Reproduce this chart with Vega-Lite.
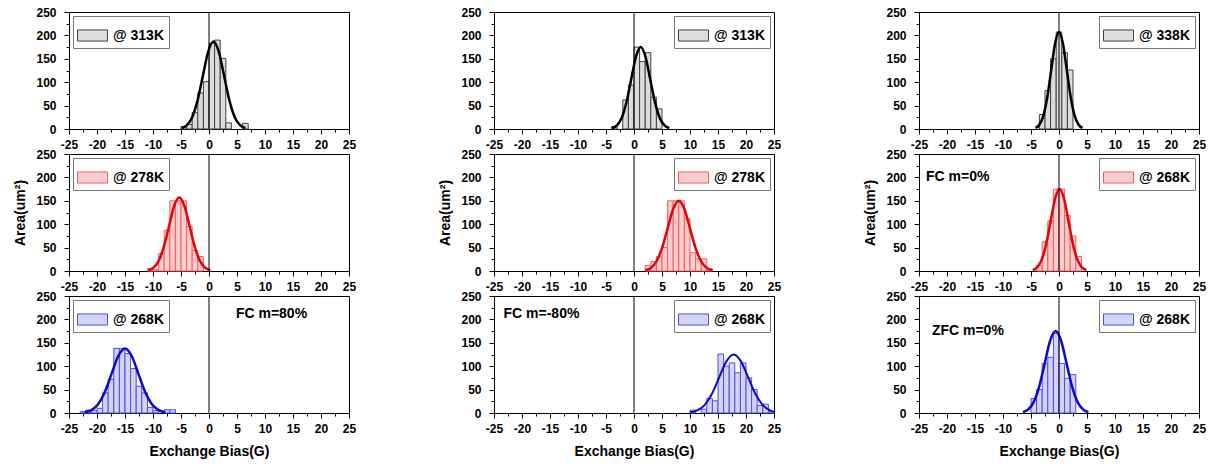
{
  "$schema": "https://vega.github.io/schema/vega-lite/v6.json",
  "padding": {"left": 13, "top": 5, "right": 5, "bottom": 5},
  "background": "white",
  "datasets": {
    "bars": [
      {"p":"c1r1","s":"@ 313K","a":-5,"b":-4,"n":5},{"p":"c1r1","s":"@ 313K","a":-4,"b":-3,"n":10},{"p":"c1r1","s":"@ 313K","a":-3,"b":-2,"n":35},{"p":"c1r1","s":"@ 313K","a":-2,"b":-1,"n":77},{"p":"c1r1","s":"@ 313K","a":-1,"b":0,"n":101},{"p":"c1r1","s":"@ 313K","a":0,"b":1,"n":183},{"p":"c1r1","s":"@ 313K","a":1,"b":2,"n":190},{"p":"c1r1","s":"@ 313K","a":2,"b":3,"n":151},{"p":"c1r1","s":"@ 313K","a":3,"b":4,"n":13},{"p":"c1r1","s":"@ 313K","a":6,"b":7,"n":12},
      {"p":"c1r2","s":"@ 278K","a":-11,"b":-10,"n":5},{"p":"c1r2","s":"@ 278K","a":-10,"b":-9,"n":3},{"p":"c1r2","s":"@ 278K","a":-9,"b":-8,"n":37},{"p":"c1r2","s":"@ 278K","a":-8,"b":-7,"n":87},{"p":"c1r2","s":"@ 278K","a":-7,"b":-6,"n":150},{"p":"c1r2","s":"@ 278K","a":-6,"b":-5,"n":150},{"p":"c1r2","s":"@ 278K","a":-5,"b":-4,"n":150},{"p":"c1r2","s":"@ 278K","a":-4,"b":-3,"n":95},{"p":"c1r2","s":"@ 278K","a":-3,"b":-2,"n":44},{"p":"c1r2","s":"@ 278K","a":-2,"b":-1,"n":31},
      {"p":"c1r3","s":"@ 268K","a":-23,"b":-22,"n":3},{"p":"c1r3","s":"@ 268K","a":-22,"b":-21,"n":6},{"p":"c1r3","s":"@ 268K","a":-21,"b":-20,"n":6},{"p":"c1r3","s":"@ 268K","a":-20,"b":-19,"n":10},{"p":"c1r3","s":"@ 268K","a":-19,"b":-18,"n":43},{"p":"c1r3","s":"@ 268K","a":-18,"b":-17,"n":72},{"p":"c1r3","s":"@ 268K","a":-17,"b":-16,"n":138},{"p":"c1r3","s":"@ 268K","a":-16,"b":-15,"n":138},{"p":"c1r3","s":"@ 268K","a":-15,"b":-14,"n":127},{"p":"c1r3","s":"@ 268K","a":-14,"b":-13,"n":95},{"p":"c1r3","s":"@ 268K","a":-13,"b":-12,"n":57},{"p":"c1r3","s":"@ 268K","a":-12,"b":-11,"n":43},{"p":"c1r3","s":"@ 268K","a":-11,"b":-10,"n":12},{"p":"c1r3","s":"@ 268K","a":-10,"b":-9,"n":5},{"p":"c1r3","s":"@ 268K","a":-8,"b":-7,"n":7},{"p":"c1r3","s":"@ 268K","a":-7,"b":-6,"n":7},
      {"p":"c2r1","s":"@ 313K","a":-4,"b":-3,"n":5},{"p":"c2r1","s":"@ 313K","a":-2,"b":-1,"n":62},{"p":"c2r1","s":"@ 313K","a":-1,"b":0,"n":94},{"p":"c2r1","s":"@ 313K","a":0,"b":1,"n":175},{"p":"c2r1","s":"@ 313K","a":1,"b":2,"n":144},{"p":"c2r1","s":"@ 313K","a":2,"b":3,"n":163},{"p":"c2r1","s":"@ 313K","a":3,"b":4,"n":68},{"p":"c2r1","s":"@ 313K","a":4,"b":5,"n":43},
      {"p":"c2r2","s":"@ 278K","a":2,"b":3,"n":12},{"p":"c2r2","s":"@ 278K","a":3,"b":4,"n":20},{"p":"c2r2","s":"@ 278K","a":4,"b":5,"n":31},{"p":"c2r2","s":"@ 278K","a":5,"b":6,"n":50},{"p":"c2r2","s":"@ 278K","a":6,"b":7,"n":150},{"p":"c2r2","s":"@ 278K","a":7,"b":8,"n":150},{"p":"c2r2","s":"@ 278K","a":8,"b":9,"n":150},{"p":"c2r2","s":"@ 278K","a":9,"b":10,"n":112},{"p":"c2r2","s":"@ 278K","a":10,"b":11,"n":39},{"p":"c2r2","s":"@ 278K","a":11,"b":12,"n":26},{"p":"c2r2","s":"@ 278K","a":12,"b":13,"n":26},{"p":"c2r2","s":"@ 278K","a":13,"b":14,"n":5},
      {"p":"c2r3","s":"@ 268K","a":10,"b":11,"n":6},{"p":"c2r3","s":"@ 268K","a":12,"b":13,"n":8},{"p":"c2r3","s":"@ 268K","a":13,"b":14,"n":31},{"p":"c2r3","s":"@ 268K","a":14,"b":15,"n":26},{"p":"c2r3","s":"@ 268K","a":15,"b":16,"n":126},{"p":"c2r3","s":"@ 268K","a":16,"b":17,"n":100},{"p":"c2r3","s":"@ 268K","a":17,"b":18,"n":107},{"p":"c2r3","s":"@ 268K","a":18,"b":19,"n":86},{"p":"c2r3","s":"@ 268K","a":19,"b":20,"n":107},{"p":"c2r3","s":"@ 268K","a":20,"b":21,"n":75},{"p":"c2r3","s":"@ 268K","a":21,"b":22,"n":50},{"p":"c2r3","s":"@ 268K","a":22,"b":23,"n":16},{"p":"c2r3","s":"@ 268K","a":23,"b":24,"n":19},{"p":"c2r3","s":"@ 268K","a":24,"b":25,"n":3},
      {"p":"c3r1","s":"@ 338K","a":-3.5,"b":-2.5,"n":31},{"p":"c3r1","s":"@ 338K","a":-2.5,"b":-1.5,"n":82},{"p":"c3r1","s":"@ 338K","a":-1.5,"b":-0.5,"n":150},{"p":"c3r1","s":"@ 338K","a":-0.5,"b":0.5,"n":207},{"p":"c3r1","s":"@ 338K","a":0.5,"b":1.5,"n":163},{"p":"c3r1","s":"@ 338K","a":1.5,"b":2.5,"n":126},
      {"p":"c3r2","s":"@ 268K","a":-4,"b":-3,"n":12},{"p":"c3r2","s":"@ 268K","a":-3,"b":-2,"n":62},{"p":"c3r2","s":"@ 268K","a":-2,"b":-1,"n":107},{"p":"c3r2","s":"@ 268K","a":-1,"b":0,"n":175},{"p":"c3r2","s":"@ 268K","a":0,"b":1,"n":175},{"p":"c3r2","s":"@ 268K","a":1,"b":2,"n":119},{"p":"c3r2","s":"@ 268K","a":2,"b":3,"n":75},{"p":"c3r2","s":"@ 268K","a":3,"b":4,"n":31},
      {"p":"c3r3","s":"@ 268K","a":-5,"b":-4,"n":31},{"p":"c3r3","s":"@ 268K","a":-4,"b":-3,"n":50},{"p":"c3r3","s":"@ 268K","a":-3,"b":-2,"n":106},{"p":"c3r3","s":"@ 268K","a":-2,"b":-1,"n":119},{"p":"c3r3","s":"@ 268K","a":-1,"b":0,"n":170},{"p":"c3r3","s":"@ 268K","a":0,"b":1,"n":106},{"p":"c3r3","s":"@ 268K","a":1,"b":2,"n":74},{"p":"c3r3","s":"@ 268K","a":2,"b":3,"n":82}
    ],
    "fits": [
      {"p":"c1r1","a":-4.9,"n":2.1},{"p":"c1r1","a":-3.95,"n":8.2},{"p":"c1r1","a":-3.0,"n":25.3},{"p":"c1r1","a":-2.05,"n":60.7},{"p":"c1r1","a":-1.1,"n":113.4},{"p":"c1r1","a":-0.15,"n":165.0},{"p":"c1r1","a":0.8,"n":187},{"p":"c1r1","a":1.75,"n":165.0},{"p":"c1r1","a":2.7,"n":113.4},{"p":"c1r1","a":3.65,"n":60.7},{"p":"c1r1","a":4.6,"n":25.3},{"p":"c1r1","a":5.55,"n":8.2},{"p":"c1r1","a":6.5,"n":2.1},
      {"p":"c1r2","a":-10.85,"n":1.7},{"p":"c1r2","a":-9.93,"n":6.9},{"p":"c1r2","a":-9.0,"n":21.2},{"p":"c1r2","a":-8.08,"n":51.0},{"p":"c1r2","a":-7.15,"n":95.2},{"p":"c1r2","a":-6.23,"n":138.6},{"p":"c1r2","a":-5.3,"n":157},{"p":"c1r2","a":-4.38,"n":138.6},{"p":"c1r2","a":-3.45,"n":95.2},{"p":"c1r2","a":-2.53,"n":51.0},{"p":"c1r2","a":-1.6,"n":21.2},{"p":"c1r2","a":-0.68,"n":6.9},{"p":"c1r2","a":0.25,"n":1.7},
      {"p":"c1r3","a":-22.2,"n":1.5},{"p":"c1r3","a":-21.0,"n":6.1},{"p":"c1r3","a":-19.8,"n":18.7},{"p":"c1r3","a":-18.6,"n":44.8},{"p":"c1r3","a":-17.4,"n":83.7},{"p":"c1r3","a":-16.2,"n":121.8},{"p":"c1r3","a":-15,"n":138},{"p":"c1r3","a":-13.8,"n":121.8},{"p":"c1r3","a":-12.6,"n":83.7},{"p":"c1r3","a":-11.4,"n":44.8},{"p":"c1r3","a":-10.2,"n":18.7},{"p":"c1r3","a":-9.0,"n":6.1},{"p":"c1r3","a":-7.8,"n":1.5},
      {"p":"c2r1","a":-3.9,"n":1.9},{"p":"c2r1","a":-3.05,"n":7.7},{"p":"c2r1","a":-2.2,"n":23.7},{"p":"c2r1","a":-1.35,"n":56.8},{"p":"c2r1","a":-0.5,"n":106.1},{"p":"c2r1","a":0.35,"n":154.4},{"p":"c2r1","a":1.2,"n":175},{"p":"c2r1","a":2.05,"n":154.4},{"p":"c2r1","a":2.9,"n":106.1},{"p":"c2r1","a":3.75,"n":56.8},{"p":"c2r1","a":4.6,"n":23.7},{"p":"c2r1","a":5.45,"n":7.7},{"p":"c2r1","a":6.3,"n":1.9},
      {"p":"c2r2","a":2,"n":1.7},{"p":"c2r2","a":3,"n":6.6},{"p":"c2r2","a":4,"n":20.3},{"p":"c2r2","a":5,"n":48.7},{"p":"c2r2","a":6,"n":91.0},{"p":"c2r2","a":7,"n":132.4},{"p":"c2r2","a":8,"n":150},{"p":"c2r2","a":9,"n":132.4},{"p":"c2r2","a":10,"n":91.0},{"p":"c2r2","a":11,"n":48.7},{"p":"c2r2","a":12,"n":20.3},{"p":"c2r2","a":13,"n":6.6},{"p":"c2r2","a":14,"n":1.7},
      {"p":"c2r3","a":10.0,"n":1.4},{"p":"c2r3","a":11.3,"n":5.5},{"p":"c2r3","a":12.6,"n":16.9},{"p":"c2r3","a":13.9,"n":40.6},{"p":"c2r3","a":15.2,"n":75.8},{"p":"c2r3","a":16.5,"n":110.3},{"p":"c2r3","a":17.8,"n":125},{"p":"c2r3","a":19.1,"n":110.3},{"p":"c2r3","a":20.4,"n":75.8},{"p":"c2r3","a":21.7,"n":40.6},{"p":"c2r3","a":23.0,"n":16.9},{"p":"c2r3","a":24.3,"n":5.5},{"p":"c2r3","a":25.6,"n":1.4},
      {"p":"c3r1","a":-4.2,"n":2.3},{"p":"c3r1","a":-3.5,"n":9.1},{"p":"c3r1","a":-2.8,"n":28.0},{"p":"c3r1","a":-2.1,"n":67.2},{"p":"c3r1","a":-1.4,"n":125.5},{"p":"c3r1","a":-0.7,"n":182.7},{"p":"c3r1","a":0,"n":207},{"p":"c3r1","a":0.7,"n":182.7},{"p":"c3r1","a":1.4,"n":125.5},{"p":"c3r1","a":2.1,"n":67.2},{"p":"c3r1","a":2.8,"n":28.0},{"p":"c3r1","a":3.5,"n":9.1},{"p":"c3r1","a":4.2,"n":2.3},
      {"p":"c3r2","a":-4.7,"n":1.9},{"p":"c3r2","a":-3.9,"n":7.7},{"p":"c3r2","a":-3.1,"n":23.7},{"p":"c3r2","a":-2.3,"n":56.8},{"p":"c3r2","a":-1.5,"n":106.1},{"p":"c3r2","a":-0.7,"n":154.4},{"p":"c3r2","a":0.1,"n":175},{"p":"c3r2","a":0.9,"n":154.4},{"p":"c3r2","a":1.7,"n":106.1},{"p":"c3r2","a":2.5,"n":56.8},{"p":"c3r2","a":3.3,"n":23.7},{"p":"c3r2","a":4.1,"n":7.7},{"p":"c3r2","a":4.9,"n":1.9},
      {"p":"c3r3","a":-6.45,"n":1.9},{"p":"c3r3","a":-5.48,"n":7.7},{"p":"c3r3","a":-4.5,"n":23.7},{"p":"c3r3","a":-3.53,"n":56.8},{"p":"c3r3","a":-2.55,"n":106.1},{"p":"c3r3","a":-1.58,"n":154.4},{"p":"c3r3","a":-0.6,"n":175},{"p":"c3r3","a":0.38,"n":154.4},{"p":"c3r3","a":1.35,"n":106.1},{"p":"c3r3","a":2.33,"n":56.8},{"p":"c3r3","a":3.3,"n":23.7},{"p":"c3r3","a":4.28,"n":7.7},{"p":"c3r3","a":5.25,"n":1.9}
    ]
  },
  "columns": 3,
  "bounds": "flush",
  "spacing": {"row": 25, "column": 145},
  "resolve": {"scale": {"fill": "independent", "stroke": "independent"}, "legend": {"fill": "independent", "stroke": "independent"}},
  "concat": [
    {"width": 280, "height": 117,
     "encoding": {
       "x": {"field": "a", "type": "quantitative", "scale": {"domain": [-25, 25], "nice": false}, "axis": {"title": null, "values": [-25,-22.5,-20,-17.5,-15,-12.5,-10,-7.5,-5,-2.5,0,2.5,5,7.5,10,12.5,15,17.5,20,22.5,25], "labelExpr": "datum.value % 5 === 0 ? '' + datum.value : ''", "tickSize": {"condition": {"test": "datum.value % 5 !== 0", "value": 3}, "value": 5}}},
       "y": {"field": "n", "type": "quantitative", "scale": {"domain": [0, 250], "nice": false}, "axis": {"title": null, "values": [0,25,50,75,100,125,150,175,200,225,250], "labelExpr": "datum.value % 50 === 0 ? '' + datum.value : ''", "tickSize": {"condition": {"test": "datum.value % 50 !== 0", "value": 3}, "value": 5}}}
     },
     "layer": [
      {"data": {"name": "bars"}, "transform": [{"filter": "datum.p === 'c1r1'"}], "mark": {"type": "rect", "strokeWidth": 1},
       "encoding": {"x2": {"field": "b"}, "y2": {"datum": 0},
        "fill": {"field": "s", "type": "nominal", "scale": {"range": ["#dcdcdc"]}, "legend": {"orient": "top-left", "title": null}},
        "stroke": {"field": "s", "type": "nominal", "scale": {"range": ["#404040"]}, "legend": {"orient": "top-left", "title": null}}}},
      {"data": {"name": "fits"}, "transform": [{"filter": "datum.p === 'c1r1'"}], "mark": {"type": "line", "color": "#000000", "strokeWidth": 2.5, "interpolate": "monotone", "clip": true}},
      {"data": {"name": "fits"}, "transform": [{"filter": "datum.p === 'c1r1' && datum.n > 180"}], "mark": {"type": "rule", "color": "#000000", "strokeWidth": 1}, "encoding": {"x": {"datum": 0}, "y": null}}
    ]},
    {"width": 280, "height": 117,
     "encoding": {
       "x": {"field": "a", "type": "quantitative", "scale": {"domain": [-25, 25], "nice": false}, "axis": {"title": null, "values": [-25,-22.5,-20,-17.5,-15,-12.5,-10,-7.5,-5,-2.5,0,2.5,5,7.5,10,12.5,15,17.5,20,22.5,25], "labelExpr": "datum.value % 5 === 0 ? '' + datum.value : ''", "tickSize": {"condition": {"test": "datum.value % 5 !== 0", "value": 3}, "value": 5}}},
       "y": {"field": "n", "type": "quantitative", "scale": {"domain": [0, 250], "nice": false}, "axis": {"title": null, "values": [0,25,50,75,100,125,150,175,200,225,250], "labelExpr": "datum.value % 50 === 0 ? '' + datum.value : ''", "tickSize": {"condition": {"test": "datum.value % 50 !== 0", "value": 3}, "value": 5}}}
     },
     "layer": [
      {"data": {"name": "bars"}, "transform": [{"filter": "datum.p === 'c2r1'"}], "mark": {"type": "rect", "strokeWidth": 1},
       "encoding": {"x2": {"field": "b"}, "y2": {"datum": 0},
        "fill": {"field": "s", "type": "nominal", "scale": {"range": ["#dcdcdc"]}, "legend": {"orient": "top-right", "title": null}},
        "stroke": {"field": "s", "type": "nominal", "scale": {"range": ["#404040"]}, "legend": {"orient": "top-right", "title": null}}}},
      {"data": {"name": "fits"}, "transform": [{"filter": "datum.p === 'c2r1'"}], "mark": {"type": "line", "color": "#000000", "strokeWidth": 2.5, "interpolate": "monotone", "clip": true}},
      {"data": {"name": "fits"}, "transform": [{"filter": "datum.p === 'c2r1' && datum.n > 170"}], "mark": {"type": "rule", "color": "#000000", "strokeWidth": 1}, "encoding": {"x": {"datum": 0}, "y": null}}
    ]},
    {"width": 280, "height": 117,
     "encoding": {
       "x": {"field": "a", "type": "quantitative", "scale": {"domain": [-25, 25], "nice": false}, "axis": {"title": null, "values": [-25,-22.5,-20,-17.5,-15,-12.5,-10,-7.5,-5,-2.5,0,2.5,5,7.5,10,12.5,15,17.5,20,22.5,25], "labelExpr": "datum.value % 5 === 0 ? '' + datum.value : ''", "tickSize": {"condition": {"test": "datum.value % 5 !== 0", "value": 3}, "value": 5}}},
       "y": {"field": "n", "type": "quantitative", "scale": {"domain": [0, 250], "nice": false}, "axis": {"title": null, "values": [0,25,50,75,100,125,150,175,200,225,250], "labelExpr": "datum.value % 50 === 0 ? '' + datum.value : ''", "tickSize": {"condition": {"test": "datum.value % 50 !== 0", "value": 3}, "value": 5}}}
     },
     "layer": [
      {"data": {"name": "bars"}, "transform": [{"filter": "datum.p === 'c3r1'"}], "mark": {"type": "rect", "strokeWidth": 1},
       "encoding": {"x2": {"field": "b"}, "y2": {"datum": 0},
        "fill": {"field": "s", "type": "nominal", "scale": {"range": ["#dcdcdc"]}, "legend": {"orient": "top-right", "title": null}},
        "stroke": {"field": "s", "type": "nominal", "scale": {"range": ["#404040"]}, "legend": {"orient": "top-right", "title": null}}}},
      {"data": {"name": "fits"}, "transform": [{"filter": "datum.p === 'c3r1'"}], "mark": {"type": "line", "color": "#000000", "strokeWidth": 2.5, "interpolate": "monotone", "clip": true}},
      {"data": {"name": "fits"}, "transform": [{"filter": "datum.p === 'c3r1' && datum.n > 200"}], "mark": {"type": "rule", "color": "#000000", "strokeWidth": 1}, "encoding": {"x": {"datum": 0}, "y": null}}
    ]},
    {"width": 280, "height": 117,
     "encoding": {
       "x": {"field": "a", "type": "quantitative", "scale": {"domain": [-25, 25], "nice": false}, "axis": {"title": null, "values": [-25,-22.5,-20,-17.5,-15,-12.5,-10,-7.5,-5,-2.5,0,2.5,5,7.5,10,12.5,15,17.5,20,22.5,25], "labelExpr": "datum.value % 5 === 0 ? '' + datum.value : ''", "tickSize": {"condition": {"test": "datum.value % 5 !== 0", "value": 3}, "value": 5}}},
       "y": {"field": "n", "type": "quantitative", "scale": {"domain": [0, 250], "nice": false}, "axis": {"title": "Area(um²)", "values": [0,25,50,75,100,125,150,175,200,225,250], "labelExpr": "datum.value % 50 === 0 ? '' + datum.value : ''", "tickSize": {"condition": {"test": "datum.value % 50 !== 0", "value": 3}, "value": 5}}}
     },
     "layer": [
      {"data": {"name": "bars"}, "transform": [{"filter": "datum.p === 'c1r2'"}], "mark": {"type": "rect", "strokeWidth": 1},
       "encoding": {"x2": {"field": "b"}, "y2": {"datum": 0},
        "fill": {"field": "s", "type": "nominal", "scale": {"range": ["#f9cdcd"]}, "legend": {"orient": "top-left", "title": null}},
        "stroke": {"field": "s", "type": "nominal", "scale": {"range": ["#f06060"]}, "legend": {"orient": "top-left", "title": null}}}},
      {"data": {"name": "fits"}, "transform": [{"filter": "datum.p === 'c1r2'"}], "mark": {"type": "line", "color": "#e8000b", "strokeWidth": 2.5, "interpolate": "monotone", "clip": true}},
      {"data": {"name": "fits"}, "transform": [{"filter": "datum.p === 'c1r2' && datum.n > 150"}], "mark": {"type": "rule", "color": "#000000", "strokeWidth": 1}, "encoding": {"x": {"datum": 0}, "y": null}}
    ]},
    {"width": 280, "height": 117,
     "encoding": {
       "x": {"field": "a", "type": "quantitative", "scale": {"domain": [-25, 25], "nice": false}, "axis": {"title": null, "values": [-25,-22.5,-20,-17.5,-15,-12.5,-10,-7.5,-5,-2.5,0,2.5,5,7.5,10,12.5,15,17.5,20,22.5,25], "labelExpr": "datum.value % 5 === 0 ? '' + datum.value : ''", "tickSize": {"condition": {"test": "datum.value % 5 !== 0", "value": 3}, "value": 5}}},
       "y": {"field": "n", "type": "quantitative", "scale": {"domain": [0, 250], "nice": false}, "axis": {"title": "Area(um²)", "values": [0,25,50,75,100,125,150,175,200,225,250], "labelExpr": "datum.value % 50 === 0 ? '' + datum.value : ''", "tickSize": {"condition": {"test": "datum.value % 50 !== 0", "value": 3}, "value": 5}}}
     },
     "layer": [
      {"data": {"name": "bars"}, "transform": [{"filter": "datum.p === 'c2r2'"}], "mark": {"type": "rect", "strokeWidth": 1},
       "encoding": {"x2": {"field": "b"}, "y2": {"datum": 0},
        "fill": {"field": "s", "type": "nominal", "scale": {"range": ["#f9cdcd"]}, "legend": {"orient": "top-right", "title": null}},
        "stroke": {"field": "s", "type": "nominal", "scale": {"range": ["#f06060"]}, "legend": {"orient": "top-right", "title": null}}}},
      {"data": {"name": "fits"}, "transform": [{"filter": "datum.p === 'c2r2'"}], "mark": {"type": "line", "color": "#e8000b", "strokeWidth": 2.5, "interpolate": "monotone", "clip": true}},
      {"data": {"name": "fits"}, "transform": [{"filter": "datum.p === 'c2r2' && datum.n > 145"}], "mark": {"type": "rule", "color": "#000000", "strokeWidth": 1}, "encoding": {"x": {"datum": 0}, "y": null}}
    ]},
    {"width": 280, "height": 117,
     "encoding": {
       "x": {"field": "a", "type": "quantitative", "scale": {"domain": [-25, 25], "nice": false}, "axis": {"title": null, "values": [-25,-22.5,-20,-17.5,-15,-12.5,-10,-7.5,-5,-2.5,0,2.5,5,7.5,10,12.5,15,17.5,20,22.5,25], "labelExpr": "datum.value % 5 === 0 ? '' + datum.value : ''", "tickSize": {"condition": {"test": "datum.value % 5 !== 0", "value": 3}, "value": 5}}},
       "y": {"field": "n", "type": "quantitative", "scale": {"domain": [0, 250], "nice": false}, "axis": {"title": "Area(um²)", "values": [0,25,50,75,100,125,150,175,200,225,250], "labelExpr": "datum.value % 50 === 0 ? '' + datum.value : ''", "tickSize": {"condition": {"test": "datum.value % 50 !== 0", "value": 3}, "value": 5}}}
     },
     "layer": [
      {"data": {"name": "bars"}, "transform": [{"filter": "datum.p === 'c3r2'"}], "mark": {"type": "rect", "strokeWidth": 1},
       "encoding": {"x2": {"field": "b"}, "y2": {"datum": 0},
        "fill": {"field": "s", "type": "nominal", "scale": {"range": ["#f9cdcd"]}, "legend": {"orient": "top-right", "title": null}},
        "stroke": {"field": "s", "type": "nominal", "scale": {"range": ["#f06060"]}, "legend": {"orient": "top-right", "title": null}}}},
      {"data": {"name": "fits"}, "transform": [{"filter": "datum.p === 'c3r2'"}], "mark": {"type": "line", "color": "#e8000b", "strokeWidth": 2.5, "interpolate": "monotone", "clip": true}},
      {"data": {"name": "fits"}, "transform": [{"filter": "datum.p === 'c3r2' && datum.n > 170"}], "mark": {"type": "rule", "color": "#000000", "strokeWidth": 1}, "encoding": {"x": {"datum": 0}, "y": null}},
      {"data": {"name": "fits"}, "transform": [{"filter": "datum.p === 'c3r2' && datum.n > 170"}], "mark": {"type": "text", "text": "FC m=0%", "align": "left", "baseline": "middle", "fontSize": 14, "fontWeight": "bold", "font": "Liberation Sans", "color": "#000"}, "encoding": {"x": {"datum": -23.75}, "y": {"datum": 200}}}
    ]},
    {"width": 280, "height": 117,
     "encoding": {
       "x": {"field": "a", "type": "quantitative", "scale": {"domain": [-25, 25], "nice": false}, "axis": {"title": "Exchange Bias(G)", "values": [-25,-22.5,-20,-17.5,-15,-12.5,-10,-7.5,-5,-2.5,0,2.5,5,7.5,10,12.5,15,17.5,20,22.5,25], "labelExpr": "datum.value % 5 === 0 ? '' + datum.value : ''", "tickSize": {"condition": {"test": "datum.value % 5 !== 0", "value": 3}, "value": 5}}},
       "y": {"field": "n", "type": "quantitative", "scale": {"domain": [0, 250], "nice": false}, "axis": {"title": null, "values": [0,25,50,75,100,125,150,175,200,225,250], "labelExpr": "datum.value % 50 === 0 ? '' + datum.value : ''", "tickSize": {"condition": {"test": "datum.value % 50 !== 0", "value": 3}, "value": 5}}}
     },
     "layer": [
      {"data": {"name": "bars"}, "transform": [{"filter": "datum.p === 'c1r3'"}], "mark": {"type": "rect", "strokeWidth": 1},
       "encoding": {"x2": {"field": "b"}, "y2": {"datum": 0},
        "fill": {"field": "s", "type": "nominal", "scale": {"range": ["#d3d3f7"]}, "legend": {"orient": "top-left", "title": null}},
        "stroke": {"field": "s", "type": "nominal", "scale": {"range": ["#4f4fe0"]}, "legend": {"orient": "top-left", "title": null}}}},
      {"data": {"name": "fits"}, "transform": [{"filter": "datum.p === 'c1r3'"}], "mark": {"type": "line", "color": "#0a0ad0", "strokeWidth": 2.5, "interpolate": "monotone", "clip": true}},
      {"data": {"name": "fits"}, "transform": [{"filter": "datum.p === 'c1r3' && datum.n > 130"}], "mark": {"type": "rule", "color": "#000000", "strokeWidth": 1}, "encoding": {"x": {"datum": 0}, "y": null}},
      {"data": {"name": "fits"}, "transform": [{"filter": "datum.p === 'c1r3' && datum.n > 130"}], "mark": {"type": "text", "text": "FC m=80%", "align": "left", "baseline": "middle", "fontSize": 14, "fontWeight": "bold", "font": "Liberation Sans", "color": "#000"}, "encoding": {"x": {"datum": 4.8}, "y": {"datum": 212}}}
    ]},
    {"width": 280, "height": 117,
     "encoding": {
       "x": {"field": "a", "type": "quantitative", "scale": {"domain": [-25, 25], "nice": false}, "axis": {"title": "Exchange Bias(G)", "values": [-25,-22.5,-20,-17.5,-15,-12.5,-10,-7.5,-5,-2.5,0,2.5,5,7.5,10,12.5,15,17.5,20,22.5,25], "labelExpr": "datum.value % 5 === 0 ? '' + datum.value : ''", "tickSize": {"condition": {"test": "datum.value % 5 !== 0", "value": 3}, "value": 5}}},
       "y": {"field": "n", "type": "quantitative", "scale": {"domain": [0, 250], "nice": false}, "axis": {"title": null, "values": [0,25,50,75,100,125,150,175,200,225,250], "labelExpr": "datum.value % 50 === 0 ? '' + datum.value : ''", "tickSize": {"condition": {"test": "datum.value % 50 !== 0", "value": 3}, "value": 5}}}
     },
     "layer": [
      {"data": {"name": "bars"}, "transform": [{"filter": "datum.p === 'c2r3'"}], "mark": {"type": "rect", "strokeWidth": 1},
       "encoding": {"x2": {"field": "b"}, "y2": {"datum": 0},
        "fill": {"field": "s", "type": "nominal", "scale": {"range": ["#d3d3f7"]}, "legend": {"orient": "top-right", "title": null}},
        "stroke": {"field": "s", "type": "nominal", "scale": {"range": ["#4f4fe0"]}, "legend": {"orient": "top-right", "title": null}}}},
      {"data": {"name": "fits"}, "transform": [{"filter": "datum.p === 'c2r3'"}], "mark": {"type": "line", "color": "#0a0ad0", "strokeWidth": 2, "interpolate": "monotone", "clip": true}},
      {"data": {"name": "fits"}, "transform": [{"filter": "datum.p === 'c2r3' && datum.n > 120"}], "mark": {"type": "rule", "color": "#000000", "strokeWidth": 1}, "encoding": {"x": {"datum": 0}, "y": null}},
      {"data": {"name": "fits"}, "transform": [{"filter": "datum.p === 'c2r3' && datum.n > 120"}], "mark": {"type": "text", "text": "FC m=-80%", "align": "left", "baseline": "middle", "fontSize": 14, "fontWeight": "bold", "font": "Liberation Sans", "color": "#000"}, "encoding": {"x": {"datum": -23.3}, "y": {"datum": 211}}}
    ]},
    {"width": 280, "height": 117,
     "encoding": {
       "x": {"field": "a", "type": "quantitative", "scale": {"domain": [-25, 25], "nice": false}, "axis": {"title": "Exchange Bias(G)", "values": [-25,-22.5,-20,-17.5,-15,-12.5,-10,-7.5,-5,-2.5,0,2.5,5,7.5,10,12.5,15,17.5,20,22.5,25], "labelExpr": "datum.value % 5 === 0 ? '' + datum.value : ''", "tickSize": {"condition": {"test": "datum.value % 5 !== 0", "value": 3}, "value": 5}}},
       "y": {"field": "n", "type": "quantitative", "scale": {"domain": [0, 250], "nice": false}, "axis": {"title": null, "values": [0,25,50,75,100,125,150,175,200,225,250], "labelExpr": "datum.value % 50 === 0 ? '' + datum.value : ''", "tickSize": {"condition": {"test": "datum.value % 50 !== 0", "value": 3}, "value": 5}}}
     },
     "layer": [
      {"data": {"name": "bars"}, "transform": [{"filter": "datum.p === 'c3r3'"}], "mark": {"type": "rect", "strokeWidth": 1},
       "encoding": {"x2": {"field": "b"}, "y2": {"datum": 0},
        "fill": {"field": "s", "type": "nominal", "scale": {"range": ["#d3d3f7"]}, "legend": {"orient": "top-right", "title": null}},
        "stroke": {"field": "s", "type": "nominal", "scale": {"range": ["#4f4fe0"]}, "legend": {"orient": "top-right", "title": null}}}},
      {"data": {"name": "fits"}, "transform": [{"filter": "datum.p === 'c3r3'"}], "mark": {"type": "line", "color": "#0a0ad0", "strokeWidth": 2.5, "interpolate": "monotone", "clip": true}},
      {"data": {"name": "fits"}, "transform": [{"filter": "datum.p === 'c3r3' && datum.n > 170"}], "mark": {"type": "rule", "color": "#000000", "strokeWidth": 1}, "encoding": {"x": {"datum": 0}, "y": null}},
      {"data": {"name": "fits"}, "transform": [{"filter": "datum.p === 'c3r3' && datum.n > 170"}], "mark": {"type": "text", "text": "ZFC m=0%", "align": "left", "baseline": "middle", "fontSize": 14, "fontWeight": "bold", "font": "Liberation Sans", "color": "#000"}, "encoding": {"x": {"datum": -22.7}, "y": {"datum": 175}}}
    ]}
  ],
  "config": {
    "font": "Liberation Sans",
    "view": {"stroke": "#000000", "strokeWidth": 1},
    "axis": {"grid": false, "domainColor": "#000000", "domainWidth": 1, "tickColor": "#000000", "tickWidth": 1, "labelFont": "Liberation Sans", "labelFontWeight": "bold", "labelFontSize": 12, "labelColor": "#000000", "labelOverlap": false, "labelFlush": false, "titleFont": "Liberation Sans", "titleFontWeight": "bold", "titleFontSize": 14, "titleColor": "#000000"},
    "axisX": {"labelPadding": 5, "titlePadding": 10},
    "axisY": {"labelPadding": 8, "titlePadding": 8},
    "legend": {"symbolType": "M-1,-0.37H1V0.37H-1Z", "symbolSize": 900, "symbolStrokeWidth": 1, "labelFont": "Liberation Sans", "labelFontWeight": "bold", "labelFontSize": 14, "labelColor": "#000000", "strokeColor": "#777777", "fillColor": "#ffffff", "padding": 4, "offset": 4, "labelOffset": 5}
  }
}
